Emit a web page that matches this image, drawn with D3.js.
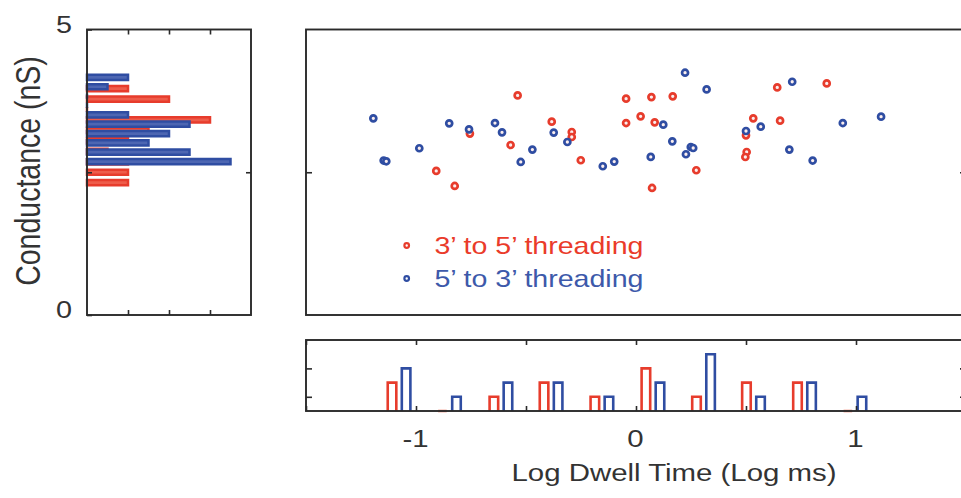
<!DOCTYPE html>
<html><head><meta charset="utf-8">
<script src="https://cdn.jsdelivr.net/npm/d3@7/dist/d3.min.js"></script>
<style>
html,body{margin:0;padding:0;background:#fff;}
svg{display:block;font-family:"Liberation Sans",Arial,Helvetica,sans-serif;}
</style></head>
<body>
<svg id="chart" width="961" height="498"></svg>
<script>
// ---------------- data ----------------
const series = ["3\u2019 to 5\u2019 threading", "5\u2019 to 3\u2019 threading"];
// scatter: log dwell time (log ms) vs conductance (nS)
const redX = [-0.538,-0.045,-0.383,-0.045,-0.755,-0.292,-0.292,-0.570,-0.251,-0.908,-0.824,0.070,0.167,0.021,0.085,0.274,0.073,0.642,0.867,0.533,0.655,0.500,0.503,0.497];
const redY = [3.846,3.789,3.386,3.362,3.177,3.205,3.117,2.977,2.710,2.523,2.260,3.817,3.829,3.479,3.374,2.535,2.225,3.986,4.056,3.444,3.404,3.147,2.855,2.767];
const blueX = [-1.194,-0.849,-0.759,-0.641,-0.609,-0.374,-0.312,-0.985,-0.471,-1.147,-1.135,-0.524,-0.151,-0.099,0.223,0.321,0.124,0.165,0.249,0.260,0.227,0.067,0.710,0.567,0.500,0.940,1.114,0.697,0.803];
const blueY = [3.444,3.357,3.252,3.362,3.199,3.194,3.030,2.920,2.897,2.705,2.692,2.680,2.605,2.687,4.243,3.951,3.334,3.042,2.942,2.925,2.815,2.768,4.085,3.299,3.222,3.362,3.474,2.897,2.705];
// conductance histogram (left)
const condBinsRed = [3.965,3.782,3.599,3.416,3.233,3.050,2.866,2.683,2.500,2.317];
const condCountsRed = [2,4,0,6,3,2,1,2,2,2];
const condBinsBlue = [4.161,3.997,3.833,3.670,3.506,3.342,3.178,3.014,2.851,2.687];
const condCountsBlue = [2,1,0,0,2,5,4,3,5,7];
// dwell time histogram (bottom)
const dwellBins = [-1.077,-0.848,-0.614,-0.386,-0.155,0.077,0.307,0.534,0.766,0.995];
const dwellRed = [2,0,1,2,1,3,1,2,2,0];
const dwellBlue = [3,1,2,2,1,2,4,1,2,1];
// ticks / labels
const xTickVals = [-1.5,-1,-0.5,0,0.5,1,1.5];
const xTickLabels = {"-1":"-1","0":"0","1":"1"};
const condTickVals = [0,2.5,5];
const condTickLabels = {"0":"0","5":"5"};
const countTickVals = [2,4,6];
const dwellCountTicks = [1,3];
const xTitle = "Log Dwell Time (Log ms)";
const yTitle = "Conductance (nS)";

// ---------------- styles ----------------
const RED = "#e73c2c", RED_L = "#ee5c4a";
const BLUE = "#2f4da2", BLUE_L = "#4d66b2";
const AX = "#2a2a2a", TXT = "#333";
const SX = 1.2; // horizontal glyph stretch of the original figure

const svg = d3.select("#chart");

// scales
const x = d3.scaleLinear().domain([-1.5,1.5]).range([306,966]);
const yC = d3.scaleLinear().domain([0,5]).range([315,29.5]);
const xCount = d3.scaleLinear().domain([0,8]).range([87,251]);
const yDwell = d3.scaleLinear().domain([0,5]).range([411,340]);

function box(x0,y0,x1,y1){
  svg.append("rect").attr("x",x0).attr("y",y0).attr("width",x1-x0).attr("height",y1-y0)
    .attr("fill","none").attr("stroke",AX).attr("stroke-width",1.9);
}
function styleAxis(g){
  g.select(".domain").remove();
  g.selectAll(".tick line").attr("stroke",AX).attr("stroke-width",1.6);
}

// ---------- left conductance histogram ----------
const gH = svg.append("g");
function hbars(bins, counts, stroke, fill){
  gH.append("g").selectAll("path").data(bins.map((b,i)=>({b, c:counts[i]}))).join("path")
    .attr("d", d => {
      const yc = yC(d.b), x0 = xCount(0), x1 = xCount(d.c);
      return `M${x0},${yc-2.6}H${x1}V${yc+2.6}H${x0}Z`;
    })
    .attr("fill", fill).attr("stroke", stroke).attr("stroke-width", 2.5);
}
hbars(condBinsRed, condCountsRed, RED, RED_L);
hbars(condBinsBlue, condCountsBlue, BLUE, BLUE_L);

box(xCount(0), yC(5), xCount(8), yC(0));
svg.append("g").attr("transform",`translate(0,${yC(5)})`)
  .call(d3.axisTop(xCount).tickValues(countTickVals).tickSize(-5).tickFormat("")).call(styleAxis);
svg.append("g").attr("transform",`translate(0,${yC(0)})`)
  .call(d3.axisBottom(xCount).tickValues(countTickVals).tickSize(-5).tickFormat("")).call(styleAxis);
svg.append("g").attr("transform",`translate(${xCount(8)},0)`)
  .call(d3.axisRight(yC).tickValues([2.5]).tickSize(-5).tickFormat("")).call(styleAxis);
const gyl = svg.append("g").attr("transform",`translate(${xCount(0)},0)`)
  .call(d3.axisLeft(yC).tickValues(condTickVals).tickSize(-5).tickFormat(d => condTickLabels[String(d)] || ""))
  .call(styleAxis);
gyl.selectAll(".tick text").attr("x",null).attr("dy",null).attr("y",null)
  .attr("transform","translate(-15,2.5) scale(" + SX + ",1)")
  .attr("text-anchor","end").attr("font-size",24).attr("fill",TXT)
  .attr("font-family","'Liberation Sans',Arial,sans-serif");

// y title
svg.append("text").attr("transform",`translate(40,171) scale(${SX},1) rotate(-90)`)
  .attr("text-anchor","middle").attr("font-size",28.5).attr("fill",TXT).text(yTitle);

// ---------- scatter ----------
box(x(-1.5), yC(5), x(1.5), yC(0));
svg.append("g").attr("transform",`translate(${x(-1.5)},0)`)
  .call(d3.axisLeft(yC).tickValues([2.5]).tickSize(-6).tickFormat("")).call(styleAxis);
svg.append("g").attr("transform",`translate(${x(1.5)},0)`)
  .call(d3.axisRight(yC).tickValues([2.5]).tickSize(-6).tickFormat("")).call(styleAxis);

function dots(xs, ys, col){
  svg.append("g").selectAll("circle").data(xs.map((v,i)=>[v, ys[i]])).join("circle")
    .attr("cx", d => x(d[0])).attr("cy", d => yC(d[1])).attr("r", 3)
    .attr("fill","#fbeeee").attr("stroke", col).attr("stroke-width", 2.7);
}
dots(redX, redY, RED);
dots(blueX, blueY, BLUE);

// legend
const legCols = [RED, BLUE];
const legTxt = ["#ea3b2a", "#3d59aa"];
series.forEach((s,i) => {
  const cy = 245.5 + i*33;
  svg.append("circle").attr("cx",406.7).attr("cy",cy).attr("r",2.3)
    .attr("fill","#fff").attr("stroke",legCols[i]).attr("stroke-width",2.2);
  svg.append("text").attr("transform",`translate(434.5,${cy+8.5}) scale(${SX},1)`)
    .attr("font-size",23.8).attr("fill",legTxt[i]).text(s);
});

// ---------- bottom dwell histogram ----------
const OFF = 0.032, HALF = 0.0195;
function vbars(vals, sign, col){
  svg.append("g").selectAll("path").data(dwellBins.map((b,i)=>({b, c:vals[i]}))).join("path")
    .attr("d", d => {
      const xc = d.b + sign*OFF, x0 = x(xc-HALF), x1 = x(xc+HALF);
      const y0 = yDwell(0), y1 = yDwell(d.c);
      return `M${x0},${y0}V${y1}H${x1}V${y0}`;
    })
    .attr("fill","none").attr("stroke", d => d.c === 0 ? (sign<0 ? "#f0826e" : BLUE_L) : col)
    .attr("stroke-width", 2.6);
}
vbars(dwellRed, -1, RED);
vbars(dwellBlue, 1, BLUE);

box(x(-1.5), yDwell(5), x(1.5), yDwell(0));
svg.append("g").attr("transform",`translate(0,${yDwell(5)})`)
  .call(d3.axisTop(x).tickValues(xTickVals).tickSize(-5).tickFormat("")).call(styleAxis);
const gxb = svg.append("g").attr("transform",`translate(0,${yDwell(0)})`)
  .call(d3.axisBottom(x).tickValues(xTickVals).tickSize(-5).tickFormat(d => xTickLabels[String(d)] || ""))
  .call(styleAxis);
gxb.selectAll(".tick text").attr("y",null).attr("dy",null)
  .attr("transform","translate(-1,36) scale(" + SX + ",1)")
  .attr("font-size",24.5).attr("fill",TXT).attr("font-family","'Liberation Sans',Arial,sans-serif");
svg.append("g").attr("transform",`translate(${x(-1.5)},0)`)
  .call(d3.axisLeft(yDwell).tickValues(dwellCountTicks).tickSize(-6).tickFormat("")).call(styleAxis);
svg.append("g").attr("transform",`translate(${x(1.5)},0)`)
  .call(d3.axisRight(yDwell).tickValues(dwellCountTicks).tickSize(-6).tickFormat("")).call(styleAxis);

// x title
svg.append("text").attr("transform",`translate(674,480.5) scale(${SX},1)`)
  .attr("text-anchor","middle").attr("font-size",24.5).attr("fill",TXT).text(xTitle);
</script>
</body></html>
